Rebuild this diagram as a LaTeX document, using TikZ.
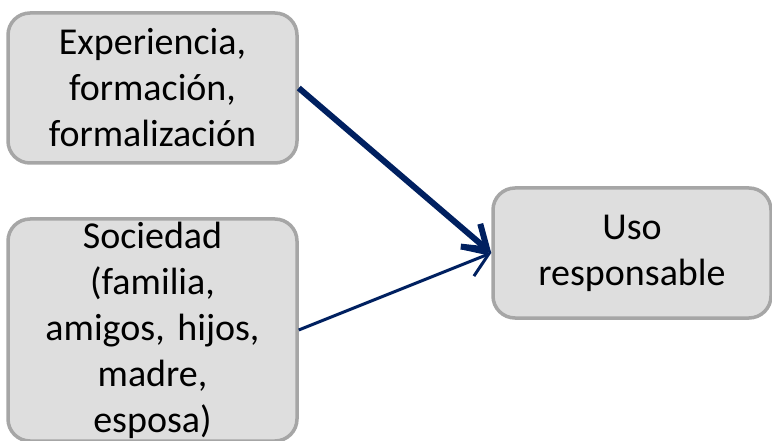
\documentclass[tikz,border=0pt]{standalone}
\usepackage{fontspec}
\setmainfont{Carlito}
\usetikzlibrary{arrows.meta}
\definecolor{cajagris}{RGB}{222,222,222}
\definecolor{bordegris}{RGB}{166,166,166}
\definecolor{azul}{RGB}{0,32,96}

\begin{document}
\begin{tikzpicture}[x=1pt,y=-1pt,
            caja/.style={draw=bordegris,line width=3.5pt,fill=cajagris,rounded corners=22pt,
                align=center,font=\fontsize{38}{46}\selectfont,inner sep=0pt},
            flecha/.style={azul,-{Straight Barb[length=22pt,width=30pt]}}]
            \useasboundingbox (0,0) rectangle (772,441);

            \node[caja,minimum width=289pt,minimum height=150pt,text width=280pt] (exp) at (152.5,88)
                {Experiencia,\\formación,\\formalización};
            \node[caja,minimum width=289pt,minimum height=222pt,text width=280pt] (soc) at (152.5,330)
                {Sociedad\\(familia,\\amigos, hijos,\\madre,\\esposa)};
            \node[caja,minimum width=278pt,minimum height=130pt,text width=270pt] (uso) at (632,253)
                {Uso\\responsable};

            \draw[flecha,line width=6pt] (exp.east)--(uso.west);
            \draw[flecha,line width=3pt] (soc.east)--(uso.west);
        \end{tikzpicture}
\end{document}
